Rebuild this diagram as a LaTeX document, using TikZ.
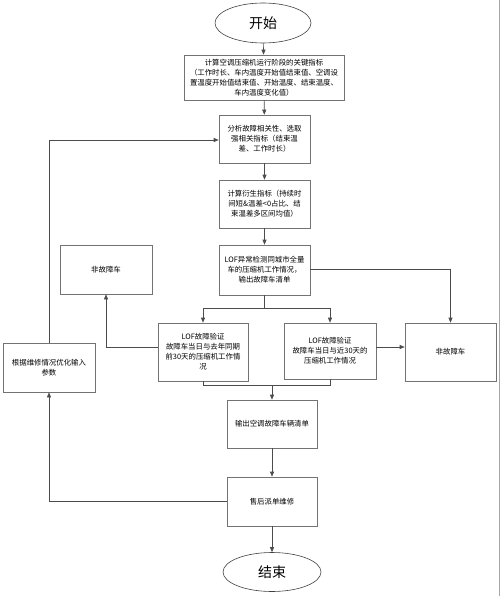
\documentclass[tikz,border=0pt]{standalone}
\usepackage{fontspec}
\setmainfont{Noto Sans CJK SC}
\usetikzlibrary{arrows.meta,shapes.geometric,calc}
\begin{document}
\begin{tikzpicture}[x=1pt,y=-1pt,
  box/.style={draw=black!55,line width=0.6pt,rectangle,align=center,inner sep=0pt,
    font=\fontsize{7.4}{10}\selectfont,text=black},
  term/.style={draw=black!75,line width=0.6pt,ellipse,inner sep=0pt,
    font=\fontsize{14}{16}\selectfont},
  conn/.style={draw=black!70,line width=0.6pt},
  arr/.style={conn,-{Triangle[length=5pt,width=4pt]}}]
\useasboundingbox (0,0) rectangle (500,596);
\draw[black!35,line width=0.8pt] (499,0) -- (499,596);
\node[term,minimum width=96pt,minimum height=40pt] (start) at (263,23) {开始};
\node[box,minimum width=160pt,minimum height=45pt] (b1) at (264,77.5)
  {计算空调压缩机运行阶段的关键指标\\（工作时长、车内温度开始值结束值、空调设\\置温度开始值结束值、开始温度、结束温度、\\车内温度变化值）};
\node[box,minimum width=91pt,minimum height=48pt] (b2) at (264.5,139)
  {分析故障相关性、选取\\强相关指标（结束温\\差、工作时长）};
\node[box,minimum width=91pt,minimum height=48pt] (b3) at (264.5,204)
  {计算衍生指标（持续时\\间短\&温差<0占比、结\\束温差多区间均值）};
\node[box,minimum width=91pt,minimum height=50pt] (b4) at (264.5,270)
  {LOF异常检测同城市全量\\车的压缩机工作情况，\\输出故障车清单};
\node[box,minimum width=92pt,minimum height=49pt] (nf1) at (106,269.5) {非故障车};
\node[box,minimum width=90pt,minimum height=58pt] (v1) at (203,352)
  {LOF故障验证\\故障车当日与去年同期\\前30天的压缩机工作情\\况};
\node[box,minimum width=92pt,minimum height=56pt] (v2) at (330,351)
  {LOF故障验证\\故障车当日与近30天的\\压缩机工作情况};
\node[box,minimum width=91pt,minimum height=58pt] (nf2) at (450.5,352) {非故障车};
\node[box,minimum width=90pt,minimum height=48pt] (out) at (272,424) {输出空调故障车辆清单};
\node[box,minimum width=90pt,minimum height=49pt] (svc) at (272,501.5) {售后派单维修};
\node[term,minimum width=98pt,minimum height=39pt] (end) at (272,572) {结束};
\node[box,minimum width=92pt,minimum height=49pt] (param) at (49,367.5)
  {根据维修情况优化输入\\参数};
\coordinate (split) at (264.5,308);
\coordinate (merge) at (272,385);
\coordinate (loop) at (49,140);
\draw[arr] (start) -- (b1);
\draw[arr] (b1) -- (b2);
\draw[arr] (b2) -- (b3);
\draw[arr] (b3) -- (b4);
\draw[conn] (b4) -- (split);
\draw[arr] (split) -| (v1.north);
\draw[arr] (split) -| (v2.north);
\draw[arr] ([yshift=1pt]b4.east) -| (nf2.north);
\draw[arr] ([yshift=5pt]v1.west) -| (nf1.south);
\draw[arr] ([yshift=4pt]v2.east) -- ([yshift=4pt]v2.east -| nf2.west);
\draw[conn] (v1.south) |- (merge);
\draw[conn] (v2.south) |- (merge);
\draw[arr] (merge) -- (out.north);
\draw[arr] (out) -- (svc);
\draw[arr] (svc) -- (end);
\draw[arr] (svc.west) -| (param.south);
\draw[conn] (param.north) -- (loop);
\draw[arr] (loop) -- (loop -| b2.west);
\end{tikzpicture}
\end{document}
